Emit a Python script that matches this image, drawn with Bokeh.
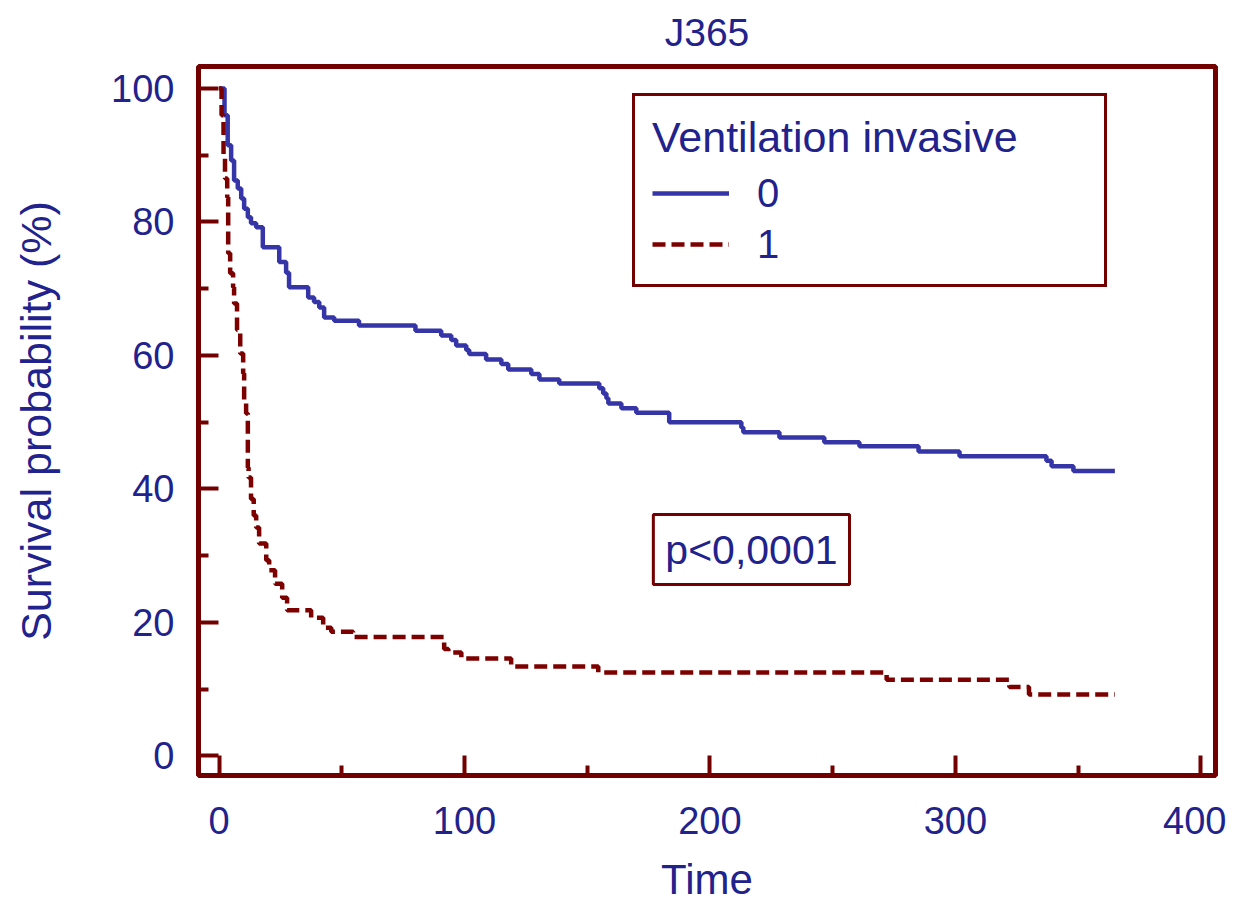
from bokeh.plotting import figure
from bokeh.models import Range1d, FixedTicker, Legend, LegendItem, Label
from bokeh.embed import file_html
from bokeh.resources import INLINE

# ---- data ----
title_text = "J365"
legend_title = "Ventilation invasive"
groups = ["0", "1"]

time_0 = [0, 2.2, 3.5, 4.9, 6.1, 7.6, 9.0, 10.2, 11.7, 13.0, 15.1, 17.8, 24.5, 27.3, 28.5,
          36.3, 38.7, 40.8, 42.8, 46.9, 57, 80, 90.5, 94.6, 96.6, 100.7, 101.9, 108.8, 115,
          117.8, 127.2, 130.5, 138.6, 154.9, 156.5, 157.8, 158.6, 163.9, 170, 183.4, 212.8,
          213.6, 228.3, 246.6, 260.9, 285, 301.7, 337.1, 339.2, 348.1, 365]
surv_0 = [100, 96.0, 91.5, 89.2, 86.2, 85.0, 83.5, 82.0, 80.7, 79.8, 79.2, 76.2, 74.0, 72.4, 70.2,
          68.7, 68.0, 67.2, 65.7, 65.2, 64.5, 63.7, 63.0, 62.3, 61.5, 60.8, 60.2, 59.4, 58.7,
          57.9, 57.2, 56.4, 55.8, 55.1, 54.3, 53.6, 52.8, 52.1, 51.4, 50.0, 49.2,
          48.5, 47.7, 47.0, 46.4, 45.6, 44.9, 44.2, 43.4, 42.7, 42.7]

time_1 = [0, 1.0, 1.8, 2.4, 3.3, 3.7, 4.5, 5.7, 6.1, 7.3, 8.6, 9.8, 10.2, 11.0, 11.7, 12.0,
          13.0, 14.1, 15.1, 16.3, 19.2, 20.4, 22.8, 25.7, 27.7, 37.5, 42.4, 45.7, 54.6, 91.7,
          93.4, 98.7, 119, 154.5, 272, 322, 330, 365]
surv_1 = [100, 96.0, 90.0, 86.5, 83.7, 75.3, 72.3, 70.2, 67.8, 63.8, 60.3, 57.3, 52.8, 51.3, 43.2, 41.7,
          38.5, 36.0, 34.2, 31.8, 29.3, 27.8, 25.8, 23.7, 21.8, 20.7, 19.2, 18.6, 17.8, 16.0,
          15.5, 14.6, 13.4, 12.5, 11.4, 10.3, 9.2, 9.2]

x_ticks = [0, 100, 200, 300, 400]
x_minor = [50, 150, 250, 350]
y_ticks = [0, 20, 40, 60, 80, 100]
y_minor = [10, 30, 50, 70, 90]
p_text = "p<0,0001"

# ---- styles ----
FONT = "Liberation Sans"
TXT = "#22228C"
FRAME = "#730000"
BLUE = "#3535A8"
RED = "#7D0000"

p = figure(frame_width=1017, frame_height=709,
           x_range=Range1d(-8.4, 406), y_range=Range1d(-2.95, 103.3),
           output_backend="svg", toolbar_location=None,
           min_border_left=198, min_border_right=11, min_border_top=66, min_border_bottom=129,
           title=title_text)

p.title.align = "center"
p.title.vertical_align = "top"
p.title.text_font = FONT
p.title.text_font_size = "39px"
p.title.text_font_style = "normal"
p.title.text_color = TXT
p.title.standoff = 21

p.grid.visible = False
p.outline_line_color = FRAME
p.outline_line_width = 5
p.outline_line_alpha = 1.0
p.background_fill_color = "white"
p.border_fill_color = "white"

p.xaxis.ticker = FixedTicker(ticks=x_ticks, minor_ticks=x_minor)
p.yaxis.ticker = FixedTicker(ticks=y_ticks, minor_ticks=y_minor)
p.xaxis.axis_label = "Time"
p.yaxis.axis_label = "Survival probability (%)"

for ax in (p.xaxis[0], p.yaxis[0]):
    ax.axis_line_color = None
    ax.major_tick_in = 20
    ax.major_tick_out = 0
    ax.minor_tick_in = 10
    ax.minor_tick_out = 0
    ax.major_tick_line_color = FRAME
    ax.major_tick_line_width = 4
    ax.minor_tick_line_color = FRAME
    ax.minor_tick_line_width = 4
    ax.major_label_text_font = FONT
    ax.major_label_text_font_size = "38px"
    ax.major_label_text_color = TXT
    ax.axis_label_text_font = FONT
    ax.axis_label_text_font_style = "normal"
    ax.axis_label_text_color = TXT

p.xaxis.axis_label_text_font_size = "42px"
p.yaxis.axis_label_text_font_size = "43px"
p.xaxis.major_label_standoff = 31
p.xaxis.axis_label_standoff = 19
p.yaxis.major_label_standoff = 24
p.yaxis.axis_label_standoff = 48

r0 = p.step(time_0, surv_0, mode="after", line_color=BLUE, line_width=4.5)
r1 = p.step(time_1, surv_1, mode="after", line_color=RED, line_width=4.5, line_dash="13 6")

legend = Legend(items=[LegendItem(label=groups[0], renderers=[r0]),
                       LegendItem(label=groups[1], renderers=[r1])],
                title=legend_title, location=(434, 488), margin=0,
                padding=17, spacing=5, title_standoff=8,
                glyph_width=77, glyph_height=46, label_height=46, label_width=330,
                label_standoff=28,
                label_text_font=FONT, label_text_font_size="40px", label_text_color=TXT,
                title_text_font=FONT, title_text_font_size="43px", title_text_color=TXT,
                title_text_font_style="normal",
                border_line_color=FRAME, border_line_width=3, border_line_alpha=1.0,
                background_fill_color="white", background_fill_alpha=1.0)
p.add_layout(legend, "center")

lab = Label(x=216.9, y=30.9, text=p_text, text_align="center", text_baseline="middle",
            text_font=FONT, text_font_size="41px", text_color=TXT,
            border_line_color=FRAME, border_line_width=3, background_fill_color="white",
            padding=12)
p.add_layout(lab)

open("out.html", "w").write(file_html(p, INLINE))
